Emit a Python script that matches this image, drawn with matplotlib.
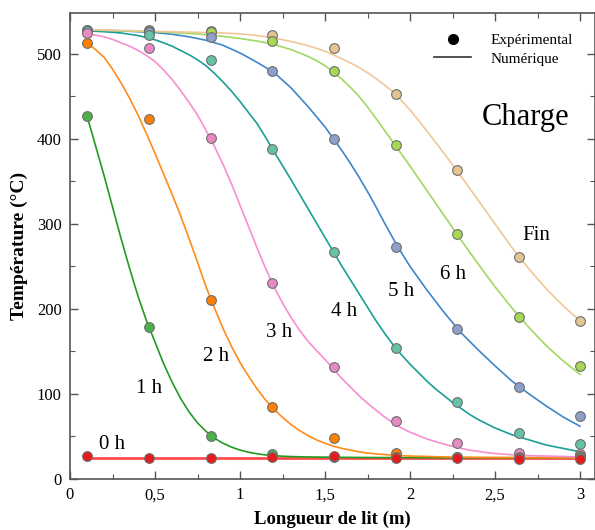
import matplotlib
matplotlib.use("Agg")
import matplotlib.pyplot as plt
from matplotlib.lines import Line2D
from matplotlib.ticker import MultipleLocator, FixedLocator

plt.rcParams['font.family'] = ['Liberation Serif', 'DejaVu Serif']

# ---------------- data ----------------
series_names = ["0 h", "1 h", "2 h", "3 h", "4 h", "5 h", "6 h", "Fin"]

# experimental points
x_exp = [0.1, 0.465, 0.83, 1.19, 1.55, 1.915, 2.275, 2.64, 3.0]
exp_0h = [27.5, 24.5, 25, 26, 26.5, 25, 25, 23, 23]
exp_1h = [427, 179, 50.5, 29, 26, 26, 26, 25, 26]
exp_2h = [513, 423.5, 210, 85, 48, 31, 26, 26, 27]
exp_3h = [524.5, 507, 401, 230, 132, 68, 42, 31, 29]
exp_4h = [527, 522.5, 493, 388, 267, 154, 91, 54.5, 41]
exp_5h = [528, 526, 520, 480, 399.5, 273, 176.5, 108, 74.5]
exp_6h = [527, 527, 526, 514.5, 480, 392.5, 288, 191, 133]
exp_fin = [528, 527.5, 527, 522.5, 506.5, 453, 363, 261.5, 186]

# numerical profiles
x_num = [0.10, 0.15, 0.20, 0.25, 0.30, 0.35, 0.40, 0.45, 0.50, 0.55,
         0.60, 0.65, 0.70, 0.75, 0.80, 0.85, 0.90, 0.95, 1.00, 1.05,
         1.10, 1.15, 1.20, 1.25, 1.30, 1.35, 1.40, 1.45, 1.50, 1.55,
         1.60, 1.65, 1.70, 1.75, 1.80, 1.85, 1.90, 1.95, 2.00, 2.05,
         2.10, 2.15, 2.20, 2.25, 2.30, 2.35, 2.40, 2.45, 2.50, 2.55,
         2.60, 2.65, 2.70, 2.75, 2.80, 2.85, 2.90, 2.95, 3.00]
x_num_0h = [0.10, 3.00]
num_0h = [25, 25]
num_1h = [427, 392, 357, 320, 283, 248, 215, 186, 161, 136,
          114, 95, 79, 66, 56, 48, 42, 37.5, 34, 31.5,
          29.7, 28.3, 27.4, 26.8, 26.4, 26.1, 25.9, 25.8, 25.7, 25.6,
          25.5, 25.4, 25.3, 25.3, 25.2, 25.2, 25.2, 25.1, 25.1, 25.1,
          25.1, 25, 25, 25, 25, 25, 25, 25, 25, 25,
          25, 25, 25, 25, 25, 25, 25, 25, 25]
num_2h = [513, 505, 496, 482, 466, 448, 428, 406, 383, 359,
          335, 310, 283, 255, 226, 201, 177, 156, 137, 121,
          106, 93, 82, 72.5, 64, 57, 51, 46, 42, 38.5,
          36, 34, 32, 30.5, 29.5, 28.7, 28, 27.5, 27, 26.7,
          26.5, 26.2, 26, 25.8, 25.7, 25.6, 25.5, 25.4, 25.4, 25.3,
          25.3, 25.2, 25.2, 25.1, 25.1, 25, 25, 25, 25]
num_3h = [524, 522, 520, 517, 513, 509, 504, 498, 491, 481,
          470, 457, 443, 428, 410, 391, 370, 347, 322, 297,
          272, 248, 226, 207, 190, 175, 162, 151, 140.5, 129,
          118, 108, 98, 89, 81, 73, 66, 60, 55, 51,
          47, 44, 41, 38.5, 36, 34, 32.5, 31, 30, 29.2,
          28.5, 28, 27.5, 27.2, 27, 26.7, 26.5, 26.2, 26]
num_4h = [527, 526.5, 526, 525.3, 524.5, 523, 521.5, 519, 516.5, 513,
          509, 504, 499, 493, 486, 477, 467, 456, 444, 431,
          418, 402, 385, 368.5, 352, 335, 318, 301, 284, 267,
          250, 234, 218, 202, 186, 171.5, 158, 146, 135, 125,
          115, 106, 98, 90, 83, 76, 70, 65, 60, 56,
          52, 49, 46, 43, 40, 38, 36, 34, 32]
num_5h = [528, 528, 527.5, 527.3, 527, 526.5, 526, 525.5, 525, 524,
          523, 521.5, 520, 518, 516, 513, 510, 505.5, 501, 495.5,
          490, 484, 478, 469, 460, 449, 438, 426, 414, 400,
          386, 371, 355, 338, 320, 301, 283, 266, 250, 236,
          222, 209, 196, 184, 172, 162, 152, 142.5, 133, 124,
          115, 107.5, 100, 93, 86, 79.5, 73, 67.5, 62]
num_6h = [528, 528, 527.5, 527.3, 527, 526.8, 526.5, 526.3, 526, 525.5,
          525, 524.5, 524, 523.3, 522.5, 521.5, 520.5, 519.3, 518, 516.5,
          515, 513, 511, 508, 505, 501, 497, 492, 486, 478.5,
          470, 460.5, 450, 437.5, 424, 410, 396, 382, 368, 353.5,
          339, 324.5, 310, 295.5, 281, 267, 253, 239.5, 226, 213.5,
          201, 189.5, 178, 167.5, 157, 148, 139, 131, 123]
num_fin = [528, 528, 528, 527.8, 527.5, 527.3, 527, 526.8, 526.5, 526.3,
           526, 525.8, 525.5, 525.3, 525, 524.8, 524.5, 524, 523.5, 522.6,
           521.5, 520.1, 518.5, 516.6, 514.5, 512.1, 509.5, 506.5, 503, 498.7,
           494, 489.2, 484, 477.8, 471, 463.3, 455, 445, 434, 421.8,
           409, 396, 383, 369.5, 356, 342, 328, 314, 300, 286,
           272, 259.3, 247, 235.3, 224, 213.7, 204, 194.8, 186]

x_ticks = [0, 0.5, 1, 1.5, 2, 2.5, 3]
x_tick_labels = ["0", "0,5", "1", "1,5", "2", "2,5", "3"]
y_ticks = [0, 100, 200, 300, 400, 500]

# label positions (data coords) for curve annotations
label_x = [0.245, 0.465, 0.86, 1.23, 1.615, 1.945, 2.255, 2.74]
label_y = [40, 107, 144, 172, 197, 221, 241, 286]

# ---------------- styling ----------------
marker_colors = ["#e41a1c", "#4daf4a", "#ff7f00", "#e78ac3",
                 "#66c2a5", "#8da0cb", "#a6d854", "#e5c494"]
line_colors = ["#ff4d4d", "#229a22", "#ff8c1a", "#f78fcf",
               "#1a9e96", "#3f86c8", "#a0d862", "#f0c898"]

exp_all = [exp_0h, exp_1h, exp_2h, exp_3h, exp_4h, exp_5h, exp_6h, exp_fin]
num_all = [num_0h, num_1h, num_2h, num_3h, num_4h, num_5h, num_6h, num_fin]
xnum_all = [x_num_0h] + [x_num] * 7

fig = plt.figure(figsize=(5.95, 5.30), dpi=100)
ax = fig.add_axes([70 / 595, 51 / 530, 525 / 595, 466 / 530])

for i in range(len(series_names)):
    lw = 2.0 if i == 0 else 1.2
    ax.plot(xnum_all[i], num_all[i], color=line_colors[i], lw=lw, zorder=2,
            solid_joinstyle="round")

for i in reversed(range(len(series_names))):
    ax.plot(x_exp, exp_all[i], linestyle="none", marker="o", markersize=7,
            markerfacecolor=marker_colors[i], markeredgecolor="#6e6e6e",
            markeredgewidth=0.8, zorder=3 + (len(series_names) - i))

for i in range(len(series_names)):
    ax.text(label_x[i], label_y[i], series_names[i], fontsize=15,
            ha="center", va="center", color="black", zorder=20)

ax.text(2.68, 425, "Charge", fontsize=22, ha="center", va="center")

ax.set_xlim(0, 3.088)
ax.set_ylim(0, 548)

ax.xaxis.set_major_locator(FixedLocator(x_ticks))
ax.set_xticklabels(x_tick_labels)
ax.xaxis.set_minor_locator(MultipleLocator(0.25))
ax.yaxis.set_major_locator(FixedLocator(y_ticks))
ax.yaxis.set_minor_locator(MultipleLocator(50))

ax.tick_params(which="both", direction="in", top=True, right=True,
               labelsize=12, color="#555555", pad=6)
ax.tick_params(which="major", length=6, width=1.0)
ax.tick_params(which="minor", length=3.5, width=0.8)
for s in ax.spines.values():
    s.set_color("#555555")
    s.set_linewidth(1.2)

ax.set_xlabel("Longueur de lit (m)", fontsize=13.5, fontweight="bold", labelpad=5)
ax.set_ylabel("Température (°C)", fontsize=14, fontweight="bold", labelpad=6)

handles = [Line2D([], [], linestyle="none", marker="o", markersize=7,
                  markerfacecolor="black", markeredgecolor="black"),
           Line2D([], [], color="#333333", lw=1.2)]
leg = ax.legend(handles, ["Expérimental", "Numérique"], loc="upper right",
                bbox_to_anchor=(0.985, 0.985), frameon=False, fontsize=11,
                handlelength=2.4, handletextpad=1.3, labelspacing=0.3)

fig.savefig("out.png", dpi=100)
